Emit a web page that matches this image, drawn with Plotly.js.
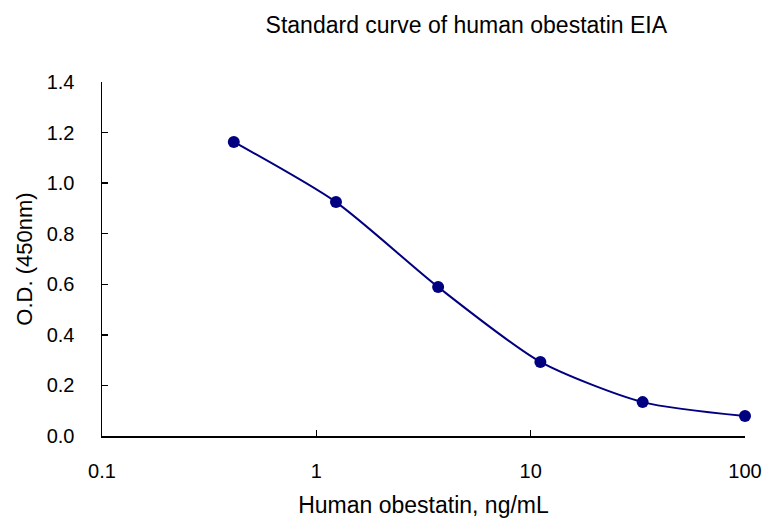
<!DOCTYPE html>
<html>
<head>
<meta charset="utf-8">
<script src="https://cdn.plot.ly/plotly-3.0.1.min.js"></script>
<style>html,body{margin:0;padding:0;background:#fff;}#chart{width:767px;height:524px;}</style>
</head>
<body>
<div id="chart"></div>
<script>
const concentrations = [0.412, 1.235, 3.7, 11.1, 33.3, 100];
const odValues = [1.163, 0.925, 0.589, 0.293, 0.134, 0.079];
const xTickVals = [0.1, 1, 10, 100];
const xTickText = ["0.1", "1", "10", "100"];
const yTickVals = [0, 0.2, 0.4, 0.6, 0.8, 1.0, 1.2, 1.4];

const font = {family: "Liberation Sans, Arial, sans-serif", color: "#000", size: 20};

Plotly.newPlot("chart", [{
  x: concentrations,
  y: odValues,
  type: "scatter",
  mode: "lines+markers",
  line: {color: "#000080", width: 2, shape: "spline", smoothing: 0.7},
  marker: {color: "#000080", size: 12},
  showlegend: false,
  cliponaxis: false
}], {
  width: 767, height: 524,
  margin: {l: 102, r: 22, t: 82, b: 88},
  paper_bgcolor: "#fff", plot_bgcolor: "#fff",
  font: font,
  title: {text: "Standard curve of human obestatin EIA", x: 0.608, xanchor: "center", y: 0.952, yanchor: "middle", font: {family: font.family, size: 23, color: "#000"}},
  xaxis: {
    type: "log", range: [-1, 2],
    tickvals: xTickVals, ticktext: xTickText,
    ticks: "inside", ticklen: 6, tickwidth: 1.5, tickcolor: "#000",
    showline: true, linecolor: "#000", linewidth: 1.5,
    showgrid: false, zeroline: false, mirror: false,
    ticklabelstandoff: 16,
    tickfont: {family: font.family, size: 20, color: "#000"},
    title: {text: "Human obestatin, ng/mL", font: {family: font.family, size: 23, color: "#000"}, standoff: 16}
  },
  yaxis: {
    range: [0, 1.4],
    tickvals: yTickVals, tickformat: ".1f",
    ticks: "inside", ticklen: 6, tickwidth: 1.5, tickcolor: "#000",
    showline: true, linecolor: "#000", linewidth: 1.5,
    showgrid: false, zeroline: false, mirror: false,
    ticklabelstandoff: 22,
    tickfont: {family: font.family, size: 20, color: "#000"},
    title: {text: "O.D. (450nm)", font: {family: font.family, size: 22, color: "#000"}, standoff: 8}
  }
}, {displayModeBar: false, staticPlot: true});
</script>
</body>
</html>
